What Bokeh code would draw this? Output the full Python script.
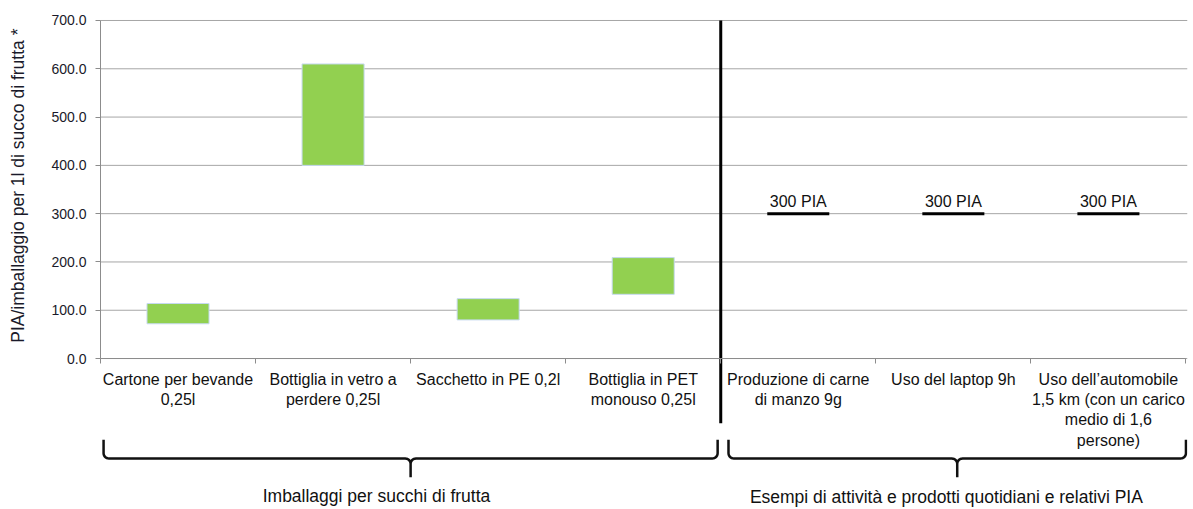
import numpy as np
from bokeh.plotting import figure
from bokeh.models import FixedTicker, PrintfTickFormatter, ColumnDataSource, Range1d
from bokeh.core.properties import value
from bokeh.embed import file_html
from bokeh.resources import INLINE

# ---------------- data ----------------
categories = [
    "Cartone per bevande\n0,25l",
    "Bottiglia in vetro a\nperdere 0,25l",
    "Sacchetto in PE 0,2l",
    "Bottiglia in PET\nmonouso 0,25l",
    "Produzione di carne\ndi manzo 9g",
    "Uso del laptop 9h",
    "Uso dell\u2019automobile\n1,5 km (con un carico\nmedio di 1,6\npersone)",
]
range_low = [72, 400, 80, 133]          # packaging: min PIA
range_high = [114, 610, 124, 209]       # packaging: max PIA
reference_values = [300, 300, 300]      # everyday examples
reference_labels = ["300 PIA", "300 PIA", "300 PIA"]
y_ticks = [0, 100, 200, 300, 400, 500, 600, 700]
groups = ["Imballaggi per succhi di frutta",
          "Esempi di attivit\u00e0 e prodotti quotidiani e relativi PIA"]
group_sizes = [4, 3]
y_title = "PIA/imballaggio per 1l di succo di frutta *"

FONT = "Liberation Sans"

# ---------------- figure ----------------
n = len(categories)
centers = [i + 0.5 for i in range(n)]
p = figure(width=1193, height=509, output_backend="svg", toolbar_location=None,
           tools="", x_range=Range1d(-0.6447, n + 0.01), y_range=Range1d(-312.6, 741.4),
           min_border_left=0, min_border_top=0, min_border_right=6,
           min_border_bottom=0)
p.outline_line_color = None
p.background_fill_color = "white"
p.border_fill_color = "white"

# y axis drawn at x = 0
p.yaxis.fixed_location = 0
p.yaxis.ticker = FixedTicker(ticks=y_ticks)
p.yaxis.bounds = (y_ticks[0], y_ticks[-1])
p.yaxis.formatter = PrintfTickFormatter(format="%.1f")
p.yaxis.major_tick_in = 0
p.yaxis.major_tick_out = 5
p.yaxis.minor_tick_line_color = None
p.yaxis.axis_line_color = "#8c8c8c"
p.yaxis.major_tick_line_color = "#8c8c8c"
p.yaxis.major_label_text_font = FONT
p.yaxis.major_label_text_font_size = "14px"
p.yaxis.major_label_text_color = "#1a1a2a"
p.yaxis.major_label_standoff = 9

# horizontal grid lines across the category area
p.xgrid.grid_line_color = None
p.ygrid.grid_line_color = None
p.segment(x0=[0] * len(y_ticks), x1=[n + 0.01] * len(y_ticks), y0=y_ticks, y1=y_ticks,
          line_color="#a6a6a6", line_width=1)

# x axis drawn at y = 0
p.xaxis.fixed_location = 0
p.xaxis.bounds = (0, n)
p.xaxis.ticker = FixedTicker(ticks=centers, minor_ticks=list(range(n + 1)))
p.xaxis.major_label_overrides = {c: lab for c, lab in zip(centers, categories)}
p.xaxis.major_tick_line_color = None
p.xaxis.major_tick_in = 0
p.xaxis.major_tick_out = 0
p.xaxis.minor_tick_in = 0
p.xaxis.minor_tick_out = 5
p.xaxis.minor_tick_line_color = "#8c8c8c"
p.xaxis.axis_line_color = "#8c8c8c"
p.xaxis.major_label_text_font = FONT
p.xaxis.major_label_text_font_size = "16px"
p.xaxis.major_label_text_color = "#111111"
p.xaxis.major_label_standoff = 7
p.xaxis.major_label_orientation = "horizontal"

# y axis title
p.text(x=[-0.53], y=[358], text=[y_title], angle=np.pi / 2, text_align="center",
       text_baseline="middle", text_font=value(FONT), text_font_size="17.5px",
       text_color="#1a1a2a")

# floating bars for packaging
bar_src = ColumnDataSource(dict(x=centers[:len(range_low)], bottom=range_low, top=range_high))
p.vbar(x="x", bottom="bottom", top="top", width=0.4, source=bar_src,
       fill_color="#92d050", line_color="#c6d9f0", line_width=1)

# reference values (black lines + labels)
ref_x = centers[len(range_low):]
ref_src = ColumnDataSource(dict(x0=[x - 0.2 for x in ref_x], x1=[x + 0.2 for x in ref_x],
                                x=ref_x, y=reference_values, lab=reference_labels))
p.segment(x0="x0", y0="y", x1="x1", y1="y", source=ref_src, line_color="black", line_width=3)
p.text(x="x", y="y", text="lab", source=ref_src, text_align="center", text_baseline="middle",
       y_offset=-12, text_font=value(FONT), text_font_size="16px", text_color="#111111")

# separator between groups
sep_x = group_sizes[0]
p.segment(x0=[sep_x], y0=[y_ticks[-1]], x1=[sep_x], y1=[-134], line_color="black", line_width=3)


# braces below the category labels
def brace(xa, xb, y_top=-168.0, y_mid=-207.0, y_bot=-246.0, rx=0.035, ry=11.0):
    xm = (xa + xb) / 2
    t = np.linspace(0, np.pi / 2, 8)
    xs, ys = [], []
    xs += [xa]; ys += [y_top]
    xs += list(xa + rx * (1 - np.cos(t))); ys += list(y_mid + ry * (1 - np.sin(t)))
    xs += list(xm - rx + rx * np.sin(t)); ys += list(y_mid - ry * (1 - np.cos(t)))
    xs += [xm]; ys += [y_bot]
    xs += [xm]; ys += [y_mid - ry]
    xs += list(xm + rx - rx * np.cos(t)); ys += list(y_mid - ry + ry * np.sin(t))
    xs += list(xb - rx + rx * np.sin(t)); ys += list(y_mid + ry * (1 - np.cos(t)))
    xs += [xb]; ys += [y_top]
    return xs, ys


bxs, bys, gx = [], [], []
start = 0
for i, size in enumerate(group_sizes):
    xa = start + (0.02 if i == 0 else 0.05)
    xb = start + size - (0.02 if i == 0 else 0.0)
    bx, by = brace(xa, xb)
    bxs.append(bx); bys.append(by)
    gx.append((xa + xb) / 2)
    start += size
p.multi_line(xs=bxs, ys=bys, line_color="#111111", line_width=2.5)

grp_src = ColumnDataSource(dict(x=[gx[0] - 0.22, gx[1] - 0.07], y=[-285, -287], t=groups))
p.text(x="x", y="y", text="t", source=grp_src, text_align="center", text_baseline="middle",
       text_font=value(FONT), text_font_size="17.5px", text_color="#111111")

open("out.html", "w").write(file_html(p, INLINE))
